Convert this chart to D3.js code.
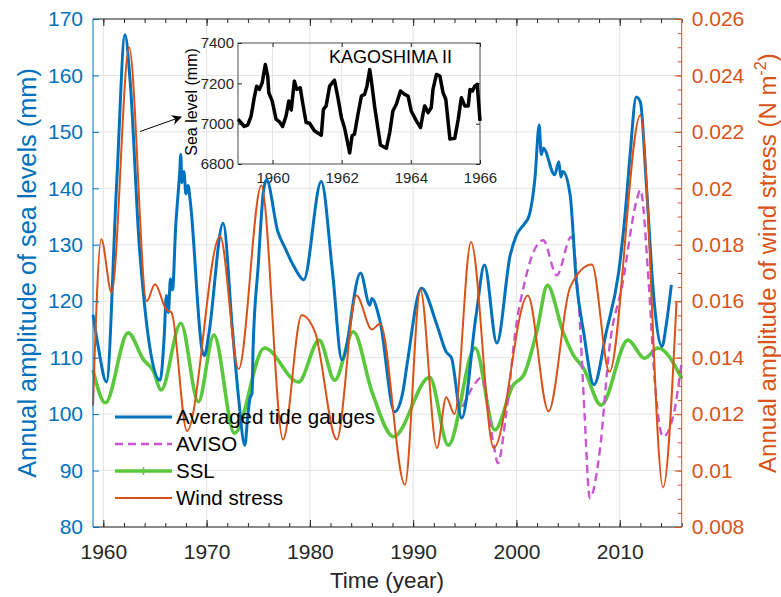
<!DOCTYPE html>
<html>
<head>
<meta charset="utf-8">
<script src="https://cdn.jsdelivr.net/npm/d3@7"></script>
<style>
  body { margin: 0; background: #fff; }
  svg { display: block; font-family: "Liberation Sans", Arial, sans-serif; }
</style>
</head>
<body>
<svg id="chart"></svg>
<script>
// values: [year, value]
const tideGauges = [
  [1959.0,117.6],[1959.5,112],[1960.3,105.7],[1961.3,141.2],[1962.1,167.2],[1962.6,158.9],[1963.5,129.4],
  [1965.5,106.0],[1965.9,114],[1966.1,121],[1966.3,118],[1966.5,124],[1966.7,122],[1967.0,133],
  [1967.4,143],[1967.5,146],[1967.6,141],[1967.8,143],[1968.0,139],[1968.2,140.5],[1968.4,138],
  [1969.6,111],[1969.8,110.4],[1970.2,114],[1971.6,133.8],[1972.5,115],[1973.1,102.8],[1973.7,94.5],
  [1974.0,100],[1974.2,102.8],[1974.4,103.7],[1974.5,111.7],[1975.0,126.4],[1975.5,139.4],[1975.8,141.5],
  [1976.9,132.3],[1977.6,129.4],[1978.5,126],[1979.4,123.8],[1981.1,141.2],[1982.2,125],[1983.1,109.6],
  [1984.9,125],[1985.8,119.3],[1986.0,120.5],[1986.8,116.4],[1988.2,100.4],[1989.0,103.9],[1989.4,108.7],
  [1990.8,122.3],[1992.3,115.8],[1993.2,111],[1993.7,110],[1994.7,99.3],[1996.1,117.6],[1996.9,126.4],
  [1998.1,112.6],[1999.4,128.2],[2000.0,131.7],[2000.8,133.8],[2001.2,135],[2001.8,142],[2002.2,151.2],
  [2002.4,146],[2002.6,147.1],[2003.7,142.4],[2004.1,144.7],[2004.3,142],[2004.5,143],[2005.2,138.8],
  [2005.8,123.5],[2006.5,114.6],[2007.5,105.2],[2008.7,114.6],[2009.9,125.2],[2010.5,135],[2011.0,145.9],
  [2011.6,156.2],[2012.0,155.3],[2012.6,140],[2013.3,120.6],[2014.1,112],[2014.5,115.8],[2015.0,122.9]
];
const aviso = [
  [1994.8,101.3],[1996.1,105.7],[1996.6,106.5],[1997.8,94.5],[1998.2,91.3],[1999.0,100],[2000.0,116],
  [2000.7,122.6],[2001.5,128],[2002.6,130.8],[2003.9,124.6],[2005.3,131.4],[2006.1,117.6],[2006.6,99.8],
  [2007.1,85.1],[2008.1,94],[2009.0,111.7],[2010.3,123.4],[2011.6,137.6],[2012.0,139.7],[2012.8,123.4],
  [2013.4,105.7],[2014.2,96],[2015.2,99.8],[2016.0,109.3]
];
const ssl = [
  [1959.0,107.8],[1960.2,102],[1962.4,114.4],[1963.9,109.6],[1964.8,107.8],[1965.6,104.3],[1967.5,116.1],
  [1969.2,102.2],[1970.7,114],[1972.7,96.6],[1975.6,111.7],[1978.9,105.7],[1980.9,113.1],[1982.4,106],
  [1984.2,114.6],[1986.0,104],[1988.1,96],[1991.6,106.5],[1993.4,94.5],[1996.0,111.7],[1997.9,97.2],
  [1999.7,105.2],[2000.7,106.9],[2002.0,114.9],[2003.0,122.8],[2004.5,114.6],[2005.5,110.5],[2006.5,108.1],
  [2008.2,101.6],[2010.8,113.1],[2012.4,109.9],[2013.7,111.7],[2016.0,106.3]
];
const windStress = [
  [1959.0,0.0123],[1959.8,0.0182],[1960.8,0.0163],[1962.5,0.0250],[1964.2,0.0160],[1965.0,0.0166],
  [1966.1,0.0157],[1966.6,0.0156],[1968.1,0.0114],[1971.3,0.0183],[1973.1,0.0136],[1975.3,0.0201],
  [1977.4,0.0111],[1979.2,0.0155],[1980.5,0.0149],[1982.6,0.0111],[1984.5,0.0162],[1986.0,0.0150],
  [1986.8,0.0152],[1989.2,0.0095],[1990.7,0.0164],[1992.3,0.0108],[1993.2,0.0126],[1994.0,0.0120],
  [1995.6,0.0181],[1997.8,0.0108],[2001.1,0.0162],[2003.1,0.0121],[2005.2,0.0165],[2007.3,0.0173],
  [2009.0,0.0135],[2012.0,0.0226],[2014.2,0.0094],[2015.5,0.0160]
];
const kagoshima = [
  [1959.00,7022],[1959.18,6986],[1959.28,6993],[1959.38,7038],[1959.47,7129],[1959.54,7186],[1959.62,7170],
  [1959.70,7203],[1959.79,7293],[1959.86,7236],[1959.89,7154],[1959.99,7112],[1960.10,7022],[1960.20,7009],
  [1960.29,6986],[1960.39,7038],[1960.47,7112],[1960.54,7068],[1960.63,7211],[1960.70,7170],[1960.80,7178],
  [1960.87,7104],[1960.97,7006],[1961.07,7002],[1961.21,6965],[1961.41,6943],[1961.47,7071],[1961.55,7088],
  [1961.65,7186],[1961.79,7216],[1961.89,7129],[1961.99,7031],[1962.08,6981],[1962.23,6855],[1962.30,6940],
  [1962.37,6948],[1962.47,7047],[1962.57,7137],[1962.66,7145],[1962.73,7186],[1962.81,7268],[1962.86,7211],
  [1962.95,7088],[1963.05,6973],[1963.12,6894],[1963.29,6878],[1963.39,6957],[1963.48,7063],[1963.58,7096],
  [1963.70,7162],[1963.82,7145],[1963.92,7137],[1964.01,7063],[1964.16,7014],[1964.28,6981],[1964.35,7047],
  [1964.40,7088],[1964.50,7055],[1964.59,7080],[1964.64,7170],[1964.74,7244],[1964.84,7236],[1964.93,7154],
  [1965.01,7121],[1965.13,6924],[1965.27,6927],[1965.37,7022],[1965.46,7129],[1965.56,7088],[1965.66,7088],
  [1965.71,7170],[1965.78,7162],[1965.85,7186],[1965.92,7195],[1966.00,7014]
];
const xTicks = [1960, 1970, 1980, 1990, 2000, 2010];
const xMinorTicks = [1960, 1962, 1964, 1966, 1968, 1970, 1972, 1974, 1976, 1978, 1980, 1982, 1984, 1986,
  1988, 1990, 1992, 1994, 1996, 1998, 2000, 2002, 2004, 2006, 2008, 2010, 2012, 2014, 2016];
const leftTicks = [80, 90, 100, 110, 120, 130, 140, 150, 160, 170];
const rightTicks = [0.008, 0.01, 0.012, 0.014, 0.016, 0.018, 0.02, 0.022, 0.024, 0.026];
const rightTickLabels = ["0.008", "0.01", "0.012", "0.014", "0.016", "0.018", "0.02", "0.022", "0.024", "0.026"];
const insetXTicks = [1960, 1962, 1964, 1966];
const insetYTicks = [6800, 7000, 7200, 7400];
const legendNames = ["Averaged tide gauges", "AVISO", "SSL", "Wind stress"];

const SIZE = {width: 781, height: 597};
const PLOT = {left: 93, right: 681.7, top: 19, bottom: 527};
const INSET = {left: 238, right: 480, top: 43, bottom: 164};
const COLORS = {blue: "#0072BD", orange: "#D95319", green: "#5AC83C", magenta: "#C955D2", axis: "#262626", grid: "#E4E4E4"};

const svg = d3.select("svg#chart").attr("width", SIZE.width).attr("height", SIZE.height);
svg.append("rect").attr("width", SIZE.width).attr("height", SIZE.height).attr("fill", "#fff");

const x = d3.scaleLinear().domain([1959, 2016]).range([PLOT.left, PLOT.right]);
const yL = d3.scaleLinear().domain([80, 170]).range([PLOT.bottom, PLOT.top]);
const yR = d3.scaleLinear().domain([0.008, 0.026]).range([PLOT.bottom, PLOT.top]);

// grid
const grid = svg.append("g").attr("stroke", COLORS.grid).attr("stroke-width", 1);
grid.selectAll(".gx").data(xTicks).enter().append("line")
  .attr("x1", d => x(d)).attr("x2", d => x(d)).attr("y1", PLOT.top).attr("y2", PLOT.bottom);
grid.selectAll(".gy").data(leftTicks).enter().append("line")
  .attr("y1", d => yL(d)).attr("y2", d => yL(d)).attr("x1", PLOT.left).attr("x2", PLOT.right);

// inset (transparent, own grid)
const ix = d3.scaleLinear().domain([1959, 1966]).range([INSET.left, INSET.right]);
const iy = d3.scaleLinear().domain([6800, 7400]).range([INSET.bottom, INSET.top]);
const inset = svg.append("g");
inset.selectAll(".igx").data(insetXTicks.slice(0, 3)).enter().append("line")
  .attr("x1", d => ix(d)).attr("x2", d => ix(d)).attr("y1", INSET.top).attr("y2", INSET.bottom)
  .attr("stroke", COLORS.grid);

// series
const lineL = d3.line().x(d => x(d[0])).y(d => yL(d[1])).curve(d3.curveMonotoneX);
const lineR = d3.line().x(d => x(d[0])).y(d => yR(d[1])).curve(d3.curveMonotoneX);
const plot = svg.append("g");
plot.append("path").attr("d", lineL(ssl)).attr("fill", "none").attr("stroke", COLORS.green).attr("stroke-width", 3.6);
plot.append("path").attr("d", lineL(aviso)).attr("fill", "none").attr("stroke", COLORS.magenta)
  .attr("stroke-width", 2.4).attr("stroke-dasharray", "8,5");
plot.append("path").attr("d", lineL(tideGauges)).attr("fill", "none").attr("stroke", COLORS.blue)
  .attr("stroke-width", 3).attr("stroke-linejoin", "round");
plot.append("path").attr("d", lineR(windStress)).attr("fill", "none").attr("stroke", COLORS.orange).attr("stroke-width", 2);

// axes
function styleAxis(g, color) {
  g.select(".domain").remove();
  g.selectAll(".tick line").attr("stroke", color);
  g.selectAll("text").attr("fill", color).attr("font-size", 21).attr("font-family", "'Liberation Sans', Arial, sans-serif");
}
const bottom = svg.append("g").attr("transform", `translate(0,${PLOT.bottom})`)
  .call(d3.axisBottom(x).tickValues(xTicks).tickFormat(d3.format("d")).tickSize(-7).tickPadding(17));
styleAxis(bottom, COLORS.axis);
svg.append("g").attr("transform", `translate(0,${PLOT.bottom})`)
  .call(d3.axisBottom(x).tickValues(xMinorTicks).tickFormat("").tickSize(-4)).call(g => styleAxis(g, COLORS.axis));
svg.append("g").attr("transform", `translate(0,${PLOT.top})`)
  .call(d3.axisTop(x).tickValues(xTicks).tickFormat("").tickSize(-7)).call(g => styleAxis(g, COLORS.axis));
svg.append("g").attr("transform", `translate(0,${PLOT.top})`)
  .call(d3.axisTop(x).tickValues(xMinorTicks).tickFormat("").tickSize(-4)).call(g => styleAxis(g, COLORS.axis));
svg.append("line").attr("x1", PLOT.left).attr("x2", PLOT.right).attr("y1", PLOT.bottom).attr("y2", PLOT.bottom)
  .attr("stroke", COLORS.axis);
svg.append("line").attr("x1", PLOT.left).attr("x2", PLOT.right).attr("y1", PLOT.top).attr("y2", PLOT.top)
  .attr("stroke", COLORS.axis);

const left = svg.append("g").attr("transform", `translate(${PLOT.left},0)`)
  .call(d3.axisLeft(yL).tickValues(leftTicks).tickSize(-6).tickPadding(10));
styleAxis(left, COLORS.blue);
svg.append("line").attr("x1", PLOT.left).attr("x2", PLOT.left).attr("y1", PLOT.top).attr("y2", PLOT.bottom)
  .attr("stroke", COLORS.blue);

const rightMinor = d3.range(0, 37).map(i => 0.008 + i * 0.0005);
const right = svg.append("g").attr("transform", `translate(${PLOT.right},0)`)
  .call(d3.axisRight(yR).tickValues(rightTicks).tickFormat((d, i) => rightTickLabels[i]).tickSize(-7).tickPadding(10));
styleAxis(right, COLORS.orange);
svg.append("g").attr("transform", `translate(${PLOT.right},0)`)
  .call(d3.axisRight(yR).tickValues(rightMinor).tickFormat("").tickSize(-4)).call(g => styleAxis(g, COLORS.orange));
svg.append("line").attr("x1", PLOT.right).attr("x2", PLOT.right).attr("y1", PLOT.top).attr("y2", PLOT.bottom)
  .attr("stroke", COLORS.orange);

// scale a title's font so it spans the same length as in the figure
function fitText(sel, length) {
  const size = +sel.attr("font-size");
  const w = sel.node().getComputedTextLength();
  const s = size * length / w;
  sel.attr("font-size", s);
  sel.selectAll("tspan.sup").attr("font-size", s * 0.68).attr("dy", (d, i) => i === 0 ? -s * 0.42 : null);
  sel.selectAll("tspan.after").attr("dy", s * 0.42);
}

// axis titles
svg.append("text").attr("x", 387).attr("y", 588).attr("text-anchor", "middle")
  .attr("font-size", 22.5).attr("fill", COLORS.axis).text("Time (year)");
const lt = svg.append("text").attr("transform", "translate(36,273) rotate(-90)").attr("text-anchor", "middle")
  .attr("font-size", 20).attr("fill", COLORS.blue).text("Annual amplitude of sea levels (mm)");
fitText(lt, 410);
const rt = svg.append("text").attr("transform", "translate(776,263) rotate(-90)").attr("text-anchor", "middle")
  .attr("font-size", 20).attr("fill", COLORS.orange);
rt.append("tspan").text("Annual amplitude of wind stress (N m");
rt.append("tspan").attr("class", "sup").attr("font-size", 13.6).attr("dy", -8.4).text("-2");
rt.append("tspan").attr("class", "after").attr("dy", 8.4).text(")");
fitText(rt, 420);

// legend
const legend = svg.append("g").attr("transform", "translate(115,417)");
const legendStyles = [
  {color: COLORS.blue, width: 3, dash: null},
  {color: COLORS.magenta, width: 2.4, dash: "8,5"},
  {color: COLORS.green, width: 3.6, dash: null},
  {color: COLORS.orange, width: 2, dash: null}
];
legendNames.forEach((name, i) => {
  const row = legend.append("g").attr("transform", `translate(0,${i * 27})`);
  row.append("line").attr("x1", 0).attr("x2", 57).attr("stroke", legendStyles[i].color)
    .attr("stroke-width", legendStyles[i].width).attr("stroke-dasharray", legendStyles[i].dash);
  if (name === "SSL") {
    row.append("path").attr("d", "M28.5,-4V4M24.5,0H32.5").attr("stroke", COLORS.green).attr("stroke-width", 1.5);
  }
  row.append("text").attr("x", 61).attr("y", 7).attr("font-size", 20.5).attr("fill", "#000").text(name);
});

// inset axes
inset.append("rect").attr("x", INSET.left).attr("y", INSET.top)
  .attr("width", INSET.right - INSET.left).attr("height", INSET.bottom - INSET.top)
  .attr("fill", "none").attr("stroke", "#4d4d4d").attr("stroke-width", 1);
const ibx = inset.append("g").attr("transform", `translate(0,${INSET.bottom})`)
  .call(d3.axisBottom(ix).tickValues(insetXTicks).tickFormat(d3.format("d")).tickSize(-4).tickPadding(8));
styleAxis(ibx, COLORS.axis);
ibx.selectAll("text").attr("font-size", 15);
const iby = inset.append("g").attr("transform", `translate(${INSET.left},0)`)
  .call(d3.axisLeft(iy).tickValues(insetYTicks).tickFormat(d3.format("d")).tickSize(-4).tickPadding(4));
styleAxis(iby, COLORS.axis);
iby.selectAll("text").attr("font-size", 15);
inset.append("g").attr("transform", `translate(0,${INSET.top})`)
  .call(d3.axisTop(ix).tickValues(insetXTicks).tickFormat("").tickSize(-4)).call(g => styleAxis(g, COLORS.axis));
inset.append("g").attr("transform", `translate(${INSET.right},0)`)
  .call(d3.axisRight(iy).tickValues(insetYTicks).tickFormat("").tickSize(-4)).call(g => styleAxis(g, COLORS.axis));
inset.append("path")
  .attr("d", d3.line().x(d => ix(d[0])).y(d => iy(d[1]))(kagoshima))
  .attr("fill", "none").attr("stroke", "#000").attr("stroke-width", 3.5).attr("stroke-linejoin", "round");
inset.append("text").attr("x", 329).attr("y", 63).attr("font-size", 18).attr("fill", "#000").text("KAGOSHIMA II");
inset.append("text").attr("transform", "translate(197,102) rotate(-90)").attr("text-anchor", "middle")
  .attr("font-size", 16).attr("fill", "#000").text("Sea level (mm)");

// arrow pointing at the inset
const ARROW = {x1: 140, y1: 131.5, x2: 181, y2: 117};
svg.append("defs").append("marker").attr("id", "head").attr("viewBox", "0 0 10 10")
  .attr("refX", 9).attr("refY", 5).attr("markerWidth", 14).attr("markerHeight", 10)
  .attr("markerUnits", "userSpaceOnUse").attr("orient", "auto")
  .append("path").attr("d", "M0,0L10,5L0,10L3,5Z").attr("fill", "#000");
svg.append("line").attr("x1", ARROW.x1).attr("y1", ARROW.y1).attr("x2", ARROW.x2).attr("y2", ARROW.y2)
  .attr("stroke", "#000").attr("stroke-width", 1).attr("marker-end", "url(#head)");
</script>
</body>
</html>
